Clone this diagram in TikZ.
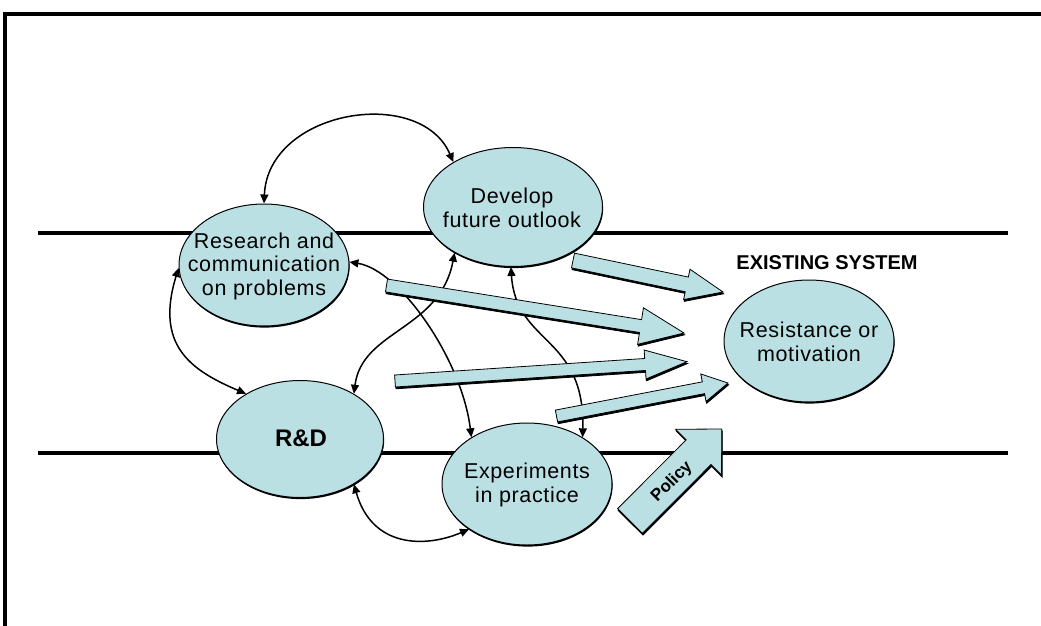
\documentclass[tikz,border=0pt]{standalone}
\usepackage{fontspec}
\setmainfont{Liberation Sans}
\usetikzlibrary{shapes.geometric,arrows.meta,shadows}

\definecolor{bub}{RGB}{187,224,228}

\tikzset{
  bubble/.style={ellipse, draw=black, line width=1pt, fill=bub, inner sep=0pt,
    drop shadow={shadow xshift=0.6pt, shadow yshift=-1.6pt, fill=black, opacity=1}},
  lbl/.style={align=center, inner sep=0pt,
    font=\addfontfeature{LetterSpace=3}\fontsize{21.5}{23.5}\selectfont},
  link/.style={line width=1.5pt, {Triangle[length=9pt,width=8pt]}-{Triangle[length=9pt,width=8pt]}},
  band/.style={line width=3.5pt},
  fatbody/.style={fill=bub, draw=black, line width=0.8pt, line join=miter},
  fatshade/.style={fill=black, draw=black, line width=0.8pt}
}

% broad arrow: tail (#1,#2), tip (#3,#4), shaft half width #5,
% head half width #6, head length #7
\newcommand{\fatarrow}[7]{%
  \pgfmathsetmacro{\faang}{atan2(#2-#4,#3-#1)}%
  \pgfmathsetmacro{\falen}{veclen(#3-#1,#4-#2)}%
  \pgfmathsetmacro{\faneck}{\falen-#7}%
  \begin{scope}[shift={(#1+0.6,#2+1.8)},rotate=\faang]
    \path[fatshade] (0,-#5) -- (\faneck,-#5) -- (\faneck,-#6) -- (\falen,0)
      -- (\faneck,#6) -- (\faneck,#5) -- (0,#5) -- cycle;
  \end{scope}
  \begin{scope}[shift={(#1,#2)},rotate=\faang]
    \path[fatbody] (0,-#5) -- (\faneck,-#5) -- (\faneck,-#6) -- (\falen,0)
      -- (\faneck,#6) -- (\faneck,#5) -- (0,#5) -- cycle;
  \end{scope}}

\begin{document}
\begin{tikzpicture}[x=1pt,y=-1pt]
\useasboundingbox (0,0) rectangle (1041,626);

% outer frame (top and left edges)
\draw[band] (5,626) -- (5,14) -- (1041,14);

% boundaries of the existing system
\draw[band] (38,233) -- (1008,233);
\draw[band] (38,453) -- (1008,453);

% activities
\node[bubble, minimum width=170pt, minimum height=122pt] (rc) at (264,265) {};
\node[bubble, minimum width=179pt, minimum height=119pt] (df) at (513,207) {};
\node[bubble, minimum width=167pt, minimum height=117pt] (rd) at (300,439) {};
\node[bubble, minimum width=170pt, minimum height=122pt] (ex) at (527,484) {};
\node[bubble, minimum width=170pt, minimum height=122pt] (rm) at (809,341) {};

% interactions between activities
\draw[link] (rc.90) .. controls (268,110) and (420,85) .. (df.143);
\draw[link] (rc.182) .. controls (155,345) and (190,370) .. (rd.140);
\draw[link] (rd.40) .. controls (362,330) and (440,330) .. (df.218);
\draw[link] (rc.2) .. controls (400,270) and (462,360) .. (ex.140);
\draw[link] (df.268) .. controls (516,345) and (585,335) .. (ex.40);
\draw[link] (rd.-40) .. controls (372,548) and (425,548) .. (ex.218);

% influences on the existing system
\fatarrow{573}{260.5}{723}{292}{7.5}{15.5}{37}
\fatarrow{386.5}{285.5}{684}{333}{6.5}{18.5}{44}
\fatarrow{395}{381}{687}{361.7}{6}{14.5}{42}
\fatarrow{556.5}{416}{728}{383}{6}{14}{25}
\fatarrow{630}{521}{721.7}{429}{17.5}{32.5}{32.7}

% labels
\node[lbl] (rc-t) at (264,266) {Research and\\communication\\on problems};
\node[lbl] (df-t) at (512,208) {Develop\\future outlook};
\node[lbl, font=\bfseries\fontsize{24}{28}\selectfont] (rd-t) at (301,438) {R\&D};
\node[lbl] (ex-t) at (527,485) {Experiments\\in practice};
\node[lbl] (rm-t) at (809,342) {Resistance or\\motivation};
\node[inner sep=0pt, font=\bfseries\fontsize{20}{24}\selectfont] (sys) at (827,263) {EXISTING SYSTEM};
\node[inner sep=0pt, rotate=45, font=\bfseries\fontsize{17}{20}\selectfont] (pol) at (672,482) {Policy};
\end{tikzpicture}
\end{document}
